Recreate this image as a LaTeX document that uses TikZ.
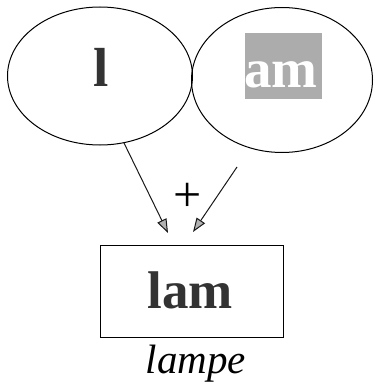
\documentclass[tikz,border=0pt]{standalone}
\usepackage{fontspec}
\setmainfont{Liberation Serif}
\usetikzlibrary{arrows.meta,shapes.geometric}
\begin{document}
\begin{tikzpicture}[x=1pt,y=-1pt,
  bubble/.style={draw=black,line width=1pt,ellipse,inner sep=0pt},
  word/.style={anchor=base,inner sep=0pt,font=\fontsize{55}{60}\selectfont\bfseries},
  link/.style={draw=black!90,line width=1pt,-{Triangle[length=14pt,width=10pt,fill=gray!60]}}]
\useasboundingbox (0,0) rectangle (374,390);
\node[bubble,minimum width=185pt,minimum height=138pt] (lft) at (100,76) {};
\node[bubble,minimum width=181pt,minimum height=145pt] (rgt) at (282,80) {};
\node[word,text=black!80] (l) at (101,87) {l};
\node[draw=none,fill=gray!65,minimum width=77pt,minimum height=66pt,inner sep=0pt] (amb) at (283.5,66) {};
\node[word,text=white] (am) at (281,88) {am};
\node[draw=black,line width=1pt,minimum width=183pt,minimum height=92pt,inner sep=0pt] (box) at (191.5,291) {};
\node[word,font=\fontsize{53}{58}\selectfont\bfseries,text=black!80] (lam) at (190,308) {lam};
\node[anchor=base,inner sep=0pt,font=\fontsize{41}{46}\selectfont\itshape] (lampe) at (196,373) {lampe};
\node[anchor=center,inner sep=0pt,font=\fontsize{50}{56}\selectfont] (plus) at (188,197) {+};
\coordinate (a1) at (124,143);
\coordinate (a2) at (168,233);
\coordinate (b1) at (237,167);
\coordinate (b2) at (193,232);
\draw[link] (a1) -- (a2);
\draw[link] (b1) -- (b2);
\end{tikzpicture}
\end{document}
